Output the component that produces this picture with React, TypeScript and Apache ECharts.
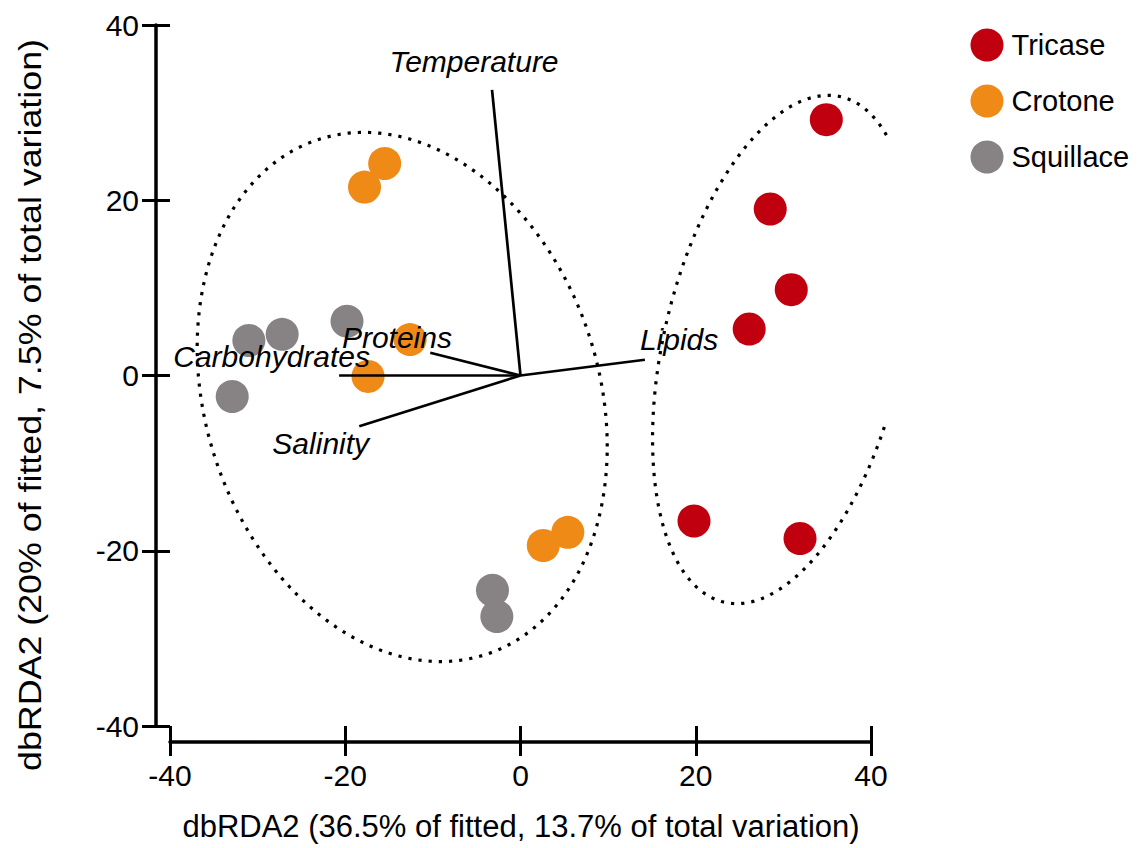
import React, { useEffect, useRef } from "react";
import * as echarts from "echarts";

const FONT = "'Liberation Sans', Arial, sans-serif";

// Sites: sample scores (dbRDA1, dbRDA2)
const tricase: number[][] = [
  [34.9, 29.2], [28.5, 19.0], [30.9, 9.8], [26.1, 5.3], [19.8, -16.6], [31.9, -18.6],
];
const crotone: number[][] = [
  [-15.5, 24.2], [-17.8, 21.5], [-12.6, 4.1], [-17.4, -0.1], [2.6, -19.4], [5.4, -17.9],
];
const squillace: number[][] = [
  [-31.0, 4.0], [-27.2, 4.7], [-19.8, 6.2], [-32.9, -2.4], [-3.2, -24.5], [-2.7, -27.5],
];

// Predictor vectors
const vectorNames = ["Temperature", "Lipids", "Proteins", "Carbohydrates", "Salinity"];
const vectorEnds: number[][] = [
  [-3.25, 32.6], [14.2, 1.8], [-10.3, 2.6], [-20.7, 0], [-18.4, -5.8],
];
const vectorLabelPos: number[][] = [
  [-5.3, 35.8], [18.1, 4.1], [-14.1, 4.3], [-28.4, 2.2], [-22.8, -7.8],
];

// Group ellipses: [centerX, centerY, semiAxisX, semiAxisY, rotationDeg, maxX]
const ellipses: number[][] = [
  [-13.5, -2.45, 22.46, 30.9, 18, 99],
  [29.9, 2.97, 13.6, 29.6, -13, 41.8],
];

const xTicks = { min: -40, max: 40, interval: 20 };
const yTicks = { min: -40, max: 40, interval: 20 };

const groupNames = ["Tricase", "Crotone", "Squillace"];
const groupColors = ["#C0000F", "#EF8A17", "#878384"];

export default function App() {
  const ref = useRef<HTMLDivElement>(null);

  useEffect(() => {
    if (!ref.current) return;
    const chart = echarts.init(ref.current, undefined, { renderer: "svg" });

    const tickLabel = { color: "#000", fontSize: 30, fontFamily: FONT };

    const option: any = {
      animation: false,
      backgroundColor: "#fff",
      grid: { left: 170, right: 276, top: 25, bottom: 122, containLabel: false },
      legend: {
        orient: "vertical",
        left: 970.5,
        top: 28.5,
        padding: 0,
        itemWidth: 33,
        itemHeight: 33,
        itemGap: 23,
        icon: "circle",
        data: groupNames,
        textStyle: { color: "#000", fontSize: 29, fontFamily: FONT, padding: [0, 0, 0, 3] },
      },
      xAxis: [
        {
          type: "value",
          position: "bottom",
          offset: 30,
          ...xTicks,
          axisLine: { show: false, onZero: false },
          axisTick: { show: true, inside: true, length: 30, lineStyle: { color: "#000", width: 3 } },
          axisLabel: { ...tickLabel, margin: 4 },
          splitLine: { show: false },
        },
        {
          type: "value",
          position: "bottom",
          offset: 16,
          ...xTicks,
          axisLine: { show: true, onZero: false, lineStyle: { color: "#000", width: 3.5 } },
          axisTick: { show: false },
          axisLabel: { show: false },
          splitLine: { show: false },
        },
      ],
      yAxis: [
        {
          type: "value",
          position: "left",
          offset: 28,
          ...yTicks,
          axisLine: { show: false, onZero: false },
          axisTick: { show: true, inside: true, length: 28, lineStyle: { color: "#000", width: 3 } },
          axisLabel: { ...tickLabel, margin: 3 },
          splitLine: { show: false },
        },
        {
          type: "value",
          position: "left",
          offset: 14,
          ...yTicks,
          axisLine: { show: true, onZero: false, lineStyle: { color: "#000", width: 3.5 } },
          axisTick: { show: false },
          axisLabel: { show: false },
          splitLine: { show: false },
        },
      ],
      graphic: [
        {
          type: "text",
          x: 521,
          y: 826,
          style: {
            text: "dbRDA2 (36.5% of fitted, 13.7% of total variation)",
            fill: "#000",
            font: `31px ${FONT}`,
            textAlign: "center",
            textVerticalAlign: "middle",
          },
        },
        {
          type: "text",
          x: 30,
          y: 405,
          rotation: Math.PI / 2,
          scaleX: 1.155,
          style: {
            text: "dbRDA2 (20% of fitted, 7.5% of total variation)",
            fill: "#000",
            font: `31px ${FONT}`,
            textAlign: "center",
            textVerticalAlign: "middle",
          },
        },
      ],
      series: [
        ...[tricase, crotone, squillace].map((d, i) => ({
          name: groupNames[i],
          type: "scatter",
          xAxisIndex: 0,
          yAxisIndex: 0,
          symbol: "circle",
          symbolSize: 33,
          itemStyle: { color: groupColors[i], opacity: 1 },
          data: d,
          z: 2,
        })),
        {
          type: "custom",
          xAxisIndex: 0,
          yAxisIndex: 0,
          clip: false,
          silent: true,
          z: 3,
          data: ellipses.map((e) => [e[0], e[1]]),
          renderItem: (params: any, api: any) => {
            const [cx, cy, a, b, rot, maxX] = ellipses[params.dataIndex];
            const phi = (rot * Math.PI) / 180;
            const c = Math.cos(phi);
            const s = Math.sin(phi);
            const t0 = Math.atan2(-b * s, a * c);
            const pts: number[][] = [];
            const n = 400;
            for (let k = 0; k <= n; k++) {
              const t = t0 + (k / n) * Math.PI * 2;
              const x = cx + a * Math.cos(t) * c - b * Math.sin(t) * s;
              const y = cy + a * Math.cos(t) * s + b * Math.sin(t) * c;
              if (x <= maxX) pts.push(api.coord([x, y]));
            }
            return {
              type: "polyline",
              shape: { points: pts },
              style: { stroke: "#000", lineWidth: 3.2, lineDash: [3.2, 7], fill: null },
            };
          },
        },
        {
          type: "lines",
          coordinateSystem: "cartesian2d",
          xAxisIndex: 0,
          yAxisIndex: 0,
          silent: true,
          z: 4,
          lineStyle: { color: "#000", width: 2.7, opacity: 1 },
          data: vectorEnds.map((p) => ({ coords: [[0, 0], p] })),
        },
        {
          type: "custom",
          xAxisIndex: 0,
          yAxisIndex: 0,
          clip: false,
          silent: true,
          z: 5,
          data: vectorLabelPos,
          renderItem: (params: any, api: any) => {
            const p = api.coord([api.value(0), api.value(1)]);
            return {
              type: "text",
              x: p[0],
              y: p[1],
              style: {
                text: vectorNames[params.dataIndex],
                fill: "#000",
                font: `italic 30px ${FONT}`,
                textAlign: "center",
                textVerticalAlign: "middle",
              },
            };
          },
        },
      ],
    };

    chart.setOption(option);
    return () => chart.dispose();
  }, []);

  return (
    <div
      ref={ref}
      style={{ position: "fixed", left: 0, top: 0, width: 1147, height: 848, background: "#fff" }}
    />
  );
}
